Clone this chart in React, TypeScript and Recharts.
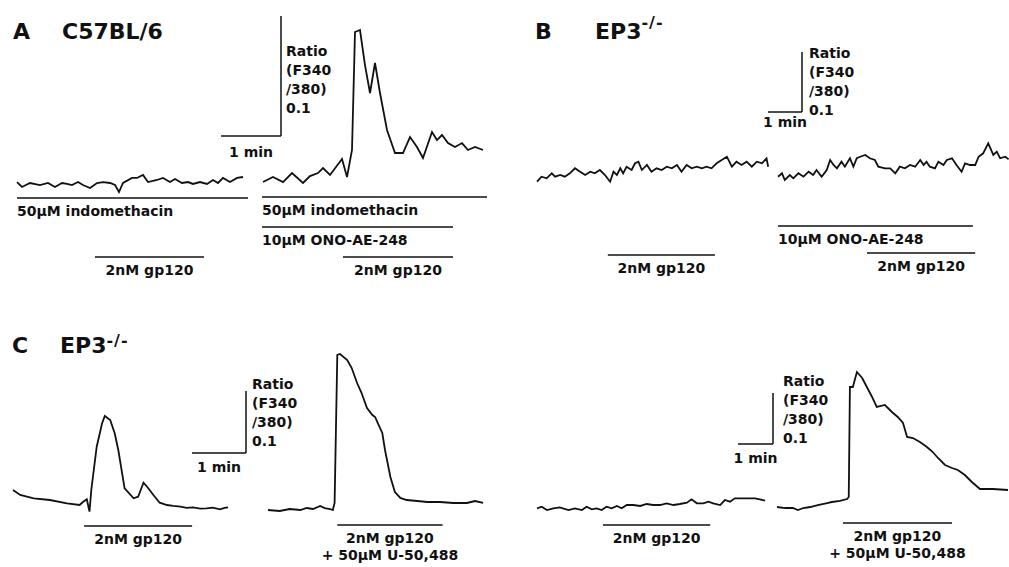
import { LineChart, Line, XAxis, YAxis, ReferenceLine } from 'recharts'

// Fura-2 traces: [seconds from start of trace, ratio F340/380]
const traceA1: [number, number][] = [
  [0, 0.7008], [5, 0.6967], [13, 0.7], [23, 0.6983], [31, 0.7], [38, 0.6967], [45, 0.7], [50, 0.6992],
  [55, 0.6983], [61, 0.7008], [66, 0.6983], [73, 0.6958], [80, 0.7], [86, 0.7008], [93, 0.7], [98, 0.6983],
  [102, 0.6925], [106, 0.7], [115, 0.7042], [120, 0.7042], [126, 0.7067], [131, 0.7008], [140, 0.7025],
  [146, 0.7042], [153, 0.7008], [158, 0.7033], [165, 0.7], [171, 0.7008], [176, 0.6992], [183, 0.7008],
  [190, 0.6992], [196, 0.7025], [201, 0.7], [206, 0.7042], [213, 0.7008], [220, 0.7042], [226, 0.705],
]
const traceA2: [number, number][] = [
  [0, 0.6983], [10, 0.7025], [20, 0.6983], [29, 0.7058], [40, 0.6975], [47, 0.7033], [55, 0.7058], [60, 0.71],
  [67, 0.7042], [79, 0.7175], [84, 0.7025], [89, 0.725], [92, 0.8233], [97, 0.825], [102, 0.7958], [107, 0.7725],
  [112, 0.7975], [117, 0.7725], [124, 0.7417], [132, 0.7225], [140, 0.7225], [147, 0.7358], [154, 0.7275],
  [160, 0.7183], [169, 0.74], [174, 0.7333], [179, 0.7375], [185, 0.7308], [192, 0.7275], [199, 0.7308],
  [205, 0.725], [212, 0.7275], [220, 0.725],
]
const traceB1: [number, number][] = [
  [0, 0.6938], [8, 0.7022], [17, 0.6995], [26, 0.7078], [32, 0.7022], [41, 0.705], [49, 0.7022], [58, 0.7078],
  [67, 0.7162], [76, 0.7105], [85, 0.705], [94, 0.7105], [102, 0.7078], [111, 0.7133], [120, 0.705], [129, 0.6938],
  [135, 0.7105], [141, 0.705], [147, 0.7162], [152, 0.7078], [158, 0.7188], [167, 0.7133], [173, 0.7245],
  [179, 0.7272], [185, 0.7133], [194, 0.7217], [202, 0.7105], [211, 0.7162], [220, 0.7133], [229, 0.7188],
  [238, 0.7162], [247, 0.7217], [255, 0.7105], [264, 0.7217], [273, 0.7162], [282, 0.7188], [291, 0.7162],
  [299, 0.7188], [308, 0.7162], [317, 0.7245], [326, 0.73], [335, 0.7355], [344, 0.7188], [352, 0.7272],
  [361, 0.7217], [370, 0.7272], [379, 0.7188], [388, 0.7272], [397, 0.7245], [405, 0.7328], [408, 0.7188],
]
const traceB2: [number, number][] = [
  [0, 0.7005], [7, 0.7062], [12, 0.695], [21, 0.7033], [27, 0.6978], [36, 0.7062], [45, 0.7005], [54, 0.7088],
  [62, 0.7033], [68, 0.7117], [77, 0.7005], [86, 0.7117], [92, 0.7283], [98, 0.72], [104, 0.7145], [112, 0.7255],
  [118, 0.7172], [127, 0.7312], [133, 0.7172], [139, 0.7312], [145, 0.7338], [154, 0.7367], [162, 0.7312],
  [171, 0.7283], [177, 0.7172], [189, 0.7145], [198, 0.7145], [207, 0.7062], [215, 0.7172], [224, 0.7145],
  [233, 0.72], [242, 0.7172], [251, 0.7283], [257, 0.72], [262, 0.7255], [268, 0.7172], [277, 0.7145],
  [283, 0.7255], [292, 0.72], [298, 0.7283], [307, 0.7312], [315, 0.72], [324, 0.7088], [330, 0.7228],
  [339, 0.72], [348, 0.72], [354, 0.7338], [362, 0.7395], [371, 0.7562], [380, 0.7367], [386, 0.7422],
  [392, 0.7312], [401, 0.7338], [407, 0.7295],
]
const traceC1: [number, number][] = [
  [0, 0.7274], [8, 0.7194], [23, 0.714], [41, 0.7113], [60, 0.706], [74, 0.7032], [78, 0.7085], [82, 0.7124],
  [85, 0.6925], [87, 0.7274], [93, 0.7973], [99, 0.835], [102, 0.8468], [108, 0.8403], [113, 0.8189],
  [117, 0.7919], [124, 0.7302], [134, 0.714], [139, 0.7166], [145, 0.7392], [149, 0.7327], [156, 0.7194],
  [163, 0.7069], [171, 0.7032], [178, 0.7018], [186, 0.7005], [193, 0.6985], [200, 0.6995], [208, 0.6975],
  [215, 0.6979], [222, 0.699], [230, 0.6963], [235, 0.6985], [239, 0.6995],
]
const traceC2: [number, number][] = [
  [0, 0.7], [13, 0.6984], [24, 0.7016], [36, 0.7], [43, 0.7032], [50, 0.7016], [58, 0.7065], [63, 0.7032],
  [69, 0.7016], [72, 0.7], [74, 0.7113], [77, 0.95], [80, 0.9516], [88, 0.9419], [93, 0.929], [99, 0.9048],
  [104, 0.8887], [110, 0.8645], [116, 0.8532], [119, 0.85], [122, 0.8403], [127, 0.8242], [130, 0.7968],
  [136, 0.7532], [141, 0.729], [147, 0.7194], [154, 0.7161], [166, 0.7145], [177, 0.7129], [191, 0.7129],
  [206, 0.7113], [221, 0.7113], [230, 0.7145], [239, 0.7113],
]
const traceC3: [number, number][] = [
  [0, 0.6974], [8, 0.7006], [17, 0.6941], [28, 0.6974], [39, 0.6994], [54, 0.6941], [65, 0.6974], [77, 0.6941],
  [85, 0.7006], [94, 0.6955], [102, 0.6974], [111, 0.6941], [119, 0.7006], [128, 0.6974], [137, 0.702],
  [145, 0.6974], [154, 0.7039], [165, 0.7039], [177, 0.702], [188, 0.7059], [199, 0.7039], [211, 0.7039],
  [222, 0.7072], [234, 0.7039], [245, 0.7059], [257, 0.7085], [265, 0.715], [274, 0.7072], [285, 0.7072],
  [294, 0.7104], [302, 0.7072], [314, 0.7039], [322, 0.7137], [331, 0.7104], [339, 0.717], [351, 0.717],
  [362, 0.717], [374, 0.717], [382, 0.715], [391, 0.7124],
]
const traceC4: [number, number][] = [
  [0, 0.7], [14, 0.698], [27, 0.698], [36, 0.6941], [45, 0.698], [57, 0.7], [70, 0.7039], [86, 0.7078],
  [94, 0.7098], [108, 0.7118], [120, 0.7157], [123, 0.7196], [125, 0.9353], [130, 0.9353], [137, 0.9647],
  [146, 0.9529], [154, 0.9353], [163, 0.9157], [171, 0.8961], [185, 0.9], [197, 0.8863], [207, 0.8765],
  [216, 0.8647], [223, 0.8373], [233, 0.8353], [245, 0.8275], [257, 0.8176], [267, 0.8078], [276, 0.7961],
  [288, 0.7824], [300, 0.7765], [310, 0.7725], [322, 0.7627], [334, 0.749], [348, 0.7353], [370, 0.7353],
  [396, 0.7333],
]

// drug applications, seconds from start of trace; row = line of the protocol under the trace
type Stim = { label: string[]; from: number; to: number; row: number }
const INDO = ['50µM indomethacin']
const ONO = ['10µM ONO-AE-248']
const GP120 = ['2nM gp120']
const GP120_U50 = ['2nM gp120', '+ 50µM U-50,488']

const stimA1: Stim[] = [{ label: INDO, from: 0, to: 231, row: 0 }, { label: GP120, from: 78, to: 187, row: 1 }]
const stimA2: Stim[] = [
  { label: INDO, from: -1, to: 224, row: 0 },
  { label: ONO, from: -1, to: 190, row: 1 },
  { label: GP120, from: 80, to: 190, row: 2 },
]
const stimB1: Stim[] = [{ label: GP120, from: 125, to: 314, row: 0 }]
const stimB2: Stim[] = [{ label: ONO, from: 0, to: 344, row: 0 }, { label: GP120, from: 157, to: 348, row: 1 }]
const stimC1: Stim[] = [{ label: GP120, from: 79, to: 199, row: 0 }]
const stimC2: Stim[] = [{ label: GP120_U50, from: 77, to: 194, row: 0 }]
const stimC3: Stim[] = [{ label: GP120, from: 113, to: 297, row: 0 }]
const stimC4: Stim[] = [{ label: GP120_U50, from: 113, to: 300, row: 0 }]

// calibration bars
const SCALE_T = 60     // 1 min
const SCALE_R = 0.1    // ratio units
const SCALE_T_LABEL = '1 min'
const SCALE_R_LABEL = ['Ratio', '(F340', '/380)', '0.1']

// ---- layout ----
const FONT = '"DejaVu Sans", sans-serif'
const INK = '#111'
const TXT: React.CSSProperties = { fontFamily: FONT, fontWeight: 700, fontSize: 14, fill: INK }
const LABEL_DY = 18
const LINE_H = 17

type Row = { dy: number; anchor: 'start' | 'middle' }
type ScaleCfg = { cx: number; cy: number; textDx: number; textDy: number; minDy: number }
type PanelCfg = {
  key: string
  data: [number, number][]
  stims: Stim[]
  box: { left: number; top: number; width: number; height: number }
  x0: number; yb: number; rb: number   // page anchor of (t=0, ratio rb)
  pps: number; ppu: number             // px per second, px per ratio unit
  rows: Row[]
  scale?: ScaleCfg
}

const PPS_A = 1, PPU_A = 1200
const PPS_B = 34 / 60, PPU_B = 600
const PPS_CL = 54 / 60, PPU_CL = 620
const PPS_CR = 35 / 60, PPU_CR = 510

const panels: PanelCfg[] = [
  { key: 'a1', data: traceA1, stims: stimA1, box: { left: 0, top: 0, width: 255, height: 290 },
    x0: 17, yb: 183, rb: 0.7, pps: PPS_A, ppu: PPU_A,
    rows: [{ dy: 15, anchor: 'start' }, { dy: 74, anchor: 'middle' }] },
  { key: 'a2', data: traceA2, stims: stimA2, box: { left: 200, top: 0, width: 300, height: 290 },
    x0: 263, yb: 180, rb: 0.7, pps: PPS_A, ppu: PPU_A,
    rows: [{ dy: 17, anchor: 'start' }, { dy: 47, anchor: 'start' }, { dy: 77, anchor: 'middle' }],
    scale: { cx: 281, cy: 136, textDx: 5, textDy: -23, minDy: 21 } },
  { key: 'b1', data: traceB1, stims: stimB1, box: { left: 520, top: 0, width: 255, height: 290 },
    x0: 537, yb: 178, rb: 0.7, pps: PPS_B, ppu: PPU_B,
    rows: [{ dy: 77, anchor: 'middle' }] },
  { key: 'b2', data: traceB2, stims: stimB2, box: { left: 750, top: 0, width: 259, height: 290 },
    x0: 778, yb: 177, rb: 0.7, pps: PPS_B, ppu: PPU_B,
    rows: [{ dy: 49, anchor: 'start' }, { dy: 76, anchor: 'middle' }],
    scale: { cx: 802, cy: 112, textDx: 7, textDy: 3, minDy: 15 } },
  { key: 'c1', data: traceC1, stims: stimC1, box: { left: 0, top: 290, width: 310, height: 277 },
    x0: 13, yb: 507, rb: 0.7, pps: PPS_CL, ppu: PPU_CL,
    rows: [{ dy: 19, anchor: 'middle' }],
    scale: { cx: 246, cy: 453, textDx: 6, textDy: -7, minDy: 19 } },
  { key: 'c2', data: traceC2, stims: stimC2, box: { left: 255, top: 290, width: 262, height: 277 },
    x0: 268, yb: 510, rb: 0.7, pps: PPS_CL, ppu: PPU_CL,
    rows: [{ dy: 15, anchor: 'middle' }] },
  { key: 'c3', data: traceC3, stims: stimC3, box: { left: 520, top: 290, width: 250, height: 277 },
    x0: 537, yb: 507, rb: 0.7, pps: PPS_CR, ppu: PPU_CR,
    rows: [{ dy: 18, anchor: 'middle' }] },
  { key: 'c4', data: traceC4, stims: stimC4, box: { left: 725, top: 290, width: 284, height: 277 },
    x0: 777, yb: 507, rb: 0.7, pps: PPS_CR, ppu: PPU_CR,
    rows: [{ dy: 16, anchor: 'middle' }],
    scale: { cx: 773, cy: 444, textDx: 10, textDy: -1, minDy: 19 } },
]

function StimText({ viewBox, lines, anchor }: any) {
  const { x, y, width } = viewBox
  const tx = anchor === 'middle' ? x + width / 2 : x
  return (
    <text x={tx} y={y + LABEL_DY} textAnchor={anchor} style={TXT}>
      {lines.map((l: string, i: number) => (
        <tspan key={i} x={tx} dy={i === 0 ? 0 : LINE_H}>{l}</tspan>
      ))}
    </text>
  )
}

function MinText({ viewBox, dy }: any) {
  const { x, y, width } = viewBox
  return <text x={x + width / 2} y={y + dy} textAnchor="middle" style={TXT}>{SCALE_T_LABEL}</text>
}

function RatioText({ viewBox, dx, dy }: any) {
  const { x, y, height } = viewBox
  const bottom = y + height + dy
  const n = SCALE_R_LABEL.length
  return (
    <text style={TXT}>
      {SCALE_R_LABEL.map((l, i) => (
        <tspan key={i} x={x + dx} y={bottom - (n - 1 - i) * 19}>{l}</tspan>
      ))}
    </text>
  )
}

function TracePanel({ cfg }: { cfg: PanelCfg }) {
  const { box, x0, yb, rb, pps, ppu } = cfg
  const xd: [number, number] = [(box.left - x0) / pps, (box.left + box.width - x0) / pps]
  const yd: [number, number] = [rb - (box.top + box.height - yb) / ppu, rb + (yb - box.top) / ppu]
  const rows = cfg.data.map(([t, r]) => ({ t, r }))
  const sc = cfg.scale
  const tc = sc ? (sc.cx - x0) / pps : 0
  const rc = sc ? rb + (yb - sc.cy) / ppu : 0

  return (
    <div style={{ position: 'absolute', left: box.left, top: box.top }}>
      <LineChart width={box.width} height={box.height} data={rows} margin={{ top: 0, right: 0, bottom: 0, left: 0 }}>
        <XAxis type="number" dataKey="t" domain={xd} allowDataOverflow hide />
        <YAxis type="number" domain={yd} allowDataOverflow hide />
        {cfg.stims.map((s, i) => {
          const row = cfg.rows[s.row]
          const y = rb - row.dy / ppu
          return (
            <ReferenceLine
              key={i}
              segment={[{ x: s.from, y }, { x: s.to, y }]}
              stroke={INK} strokeWidth={1.5} ifOverflow="visible"
              label={<StimText lines={s.label} anchor={row.anchor} />}
            />
          )
        })}
        {sc && (
          <ReferenceLine
            segment={[{ x: tc - SCALE_T, y: rc }, { x: tc, y: rc }]}
            stroke={INK} strokeWidth={1.5} ifOverflow="visible"
            label={<MinText dy={sc.minDy} />}
          />
        )}
        {sc && (
          <ReferenceLine
            segment={[{ x: tc, y: rc }, { x: tc, y: rc + SCALE_R }]}
            stroke={INK} strokeWidth={1.5} ifOverflow="visible"
            label={<RatioText dx={sc.textDx} dy={sc.textDy} />}
          />
        )}
        <Line
          type="linear" dataKey="r" stroke={INK} strokeWidth={1.8}
          dot={false} activeDot={false} isAnimationActive={false}
        />
      </LineChart>
    </div>
  )
}

const HEAD: React.CSSProperties = { fontFamily: FONT, fontWeight: 700, fontSize: 22, fill: INK }

export default function App() {
  return (
    <div style={{ position: 'absolute', left: 0, top: 0, width: 1009, height: 567, background: '#fff' }}>
      {panels.map(p => <TracePanel key={p.key} cfg={p} />)}
      <svg width={1009} height={567} style={{ position: 'absolute', left: 0, top: 0, pointerEvents: 'none' }}>
        <text x={13} y={39} style={HEAD}>A</text>
        <text x={62} y={39} style={HEAD}>C57BL/6</text>
        <text x={535} y={39} style={HEAD}>B</text>
        <text x={595} y={39} style={HEAD}>EP3<tspan dy={-11} fontSize={16} letterSpacing={1}>-/-</tspan></text>
        <text x={12} y={353} style={HEAD}>C</text>
        <text x={60} y={353} style={HEAD}>EP3<tspan dy={-7} fontSize={16} letterSpacing={1}>-/-</tspan></text>
      </svg>
    </div>
  )
}
